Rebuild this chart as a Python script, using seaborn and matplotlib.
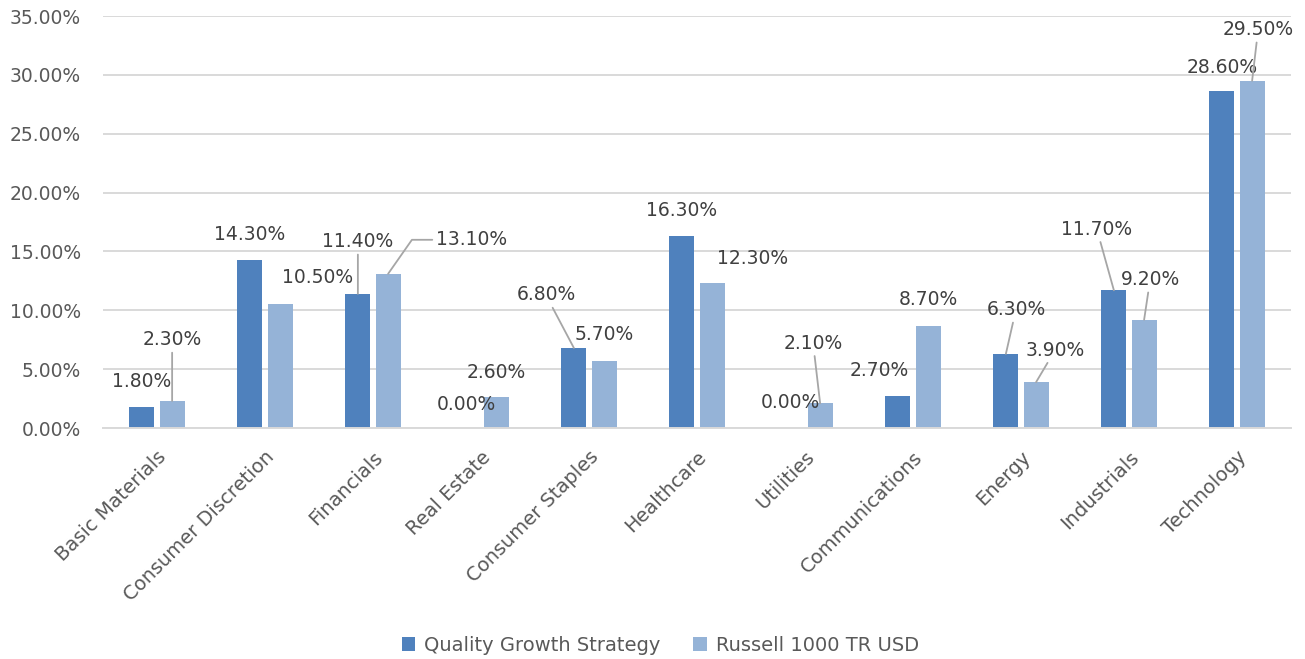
import matplotlib
matplotlib.use("Agg")
import matplotlib.pyplot as plt
import seaborn as sns
import pandas as pd
from matplotlib.patches import Patch

sectors = ["Basic Materials", "Consumer Discretion", "Financials", "Real Estate",
           "Consumer Staples", "Healthcare", "Utilities", "Communications",
           "Energy", "Industrials", "Technology"]
quality = [1.80, 14.30, 11.40, 0.00, 6.80, 16.30, 0.00, 2.70, 6.30, 11.70, 28.60]
russell = [2.30, 10.50, 13.10, 2.60, 5.70, 12.30, 2.10, 8.70, 3.90, 9.20, 29.50]
series_names = ["Quality Growth Strategy", "Russell 1000 TR USD"]
yticks = [0, 5, 10, 15, 20, 25, 30, 35]

# label placement (pixel offsets of label centre from bar top, leader line style)
q_offsets = [(0, -25, None), (0, -25, None), (0, -52, "arc3"), (0, -23, None),
             (-28, -53, "arc3"), (0, -26, None), (0, -25, None), (-19, -26, None),
             (10, -44, "arc3"), (-17, -61, "arc3"), (0, -24, None)]
r_offsets = [(0, -61, "arc3"), (37, -27, None), (83, -34, "angle,angleA=0,angleB=55,rad=0"),
             (0, -25, None), (0, -26, None), (40, -25, None), (-7, -60, "arc3"),
             (0, -26, None), (19, -32, "arc3"), (6, -40, "arc3"), (6, -51, "arc3")]

colors = ["#4F81BD", "#95B3D7"]
text_color = "#404040"
tick_color = "#595959"

df = pd.DataFrame({
    "Sector": sectors * 2,
    "Weight": quality + russell,
    "Series": [series_names[0]] * len(sectors) + [series_names[1]] * len(sectors),
})

sns.set_theme(style="white")
plt.rcParams["font.family"] = ["DejaVu Sans"]

fig = plt.figure(figsize=(13.05, 6.59), dpi=100)
ax = fig.add_axes([103 / 1305, 1 - 428 / 659, (1291 - 103) / 1305, (428 - 16) / 659])

sns.barplot(data=df, x="Sector", y="Weight", hue="Series", hue_order=series_names,
            order=sectors, palette=colors, saturation=1, width=0.56, gap=0.17,
            errorbar=None, linewidth=0, legend=False, ax=ax)

ax.set_ylim(0, 35)
ax.set_xlim(-0.5, len(sectors) - 0.5)
ax.set_yticks(yticks)
ax.set_yticklabels([f"{t:.2f}%" for t in yticks], fontsize=13.5, color=tick_color)
ax.yaxis.grid(True, color="#D9D9D9", linewidth=1.4)
ax.set_axisbelow(True)
for s in ["top", "right", "left"]:
    ax.spines[s].set_visible(False)
ax.spines["bottom"].set_color("#D9D9D9")
ax.spines["bottom"].set_linewidth(1.4)
ax.tick_params(axis="both", length=0)
ax.tick_params(axis="y", pad=16)
ax.set_xlabel("")
ax.set_ylabel("")
ax.set_xticks(range(len(sectors)))
ax.set_xticklabels(sectors, rotation=45, ha="right", rotation_mode="anchor",
                   fontsize=14, color=tick_color)
ax.tick_params(axis="x", pad=14)

px2pt = 0.72
for container, offs, vals in zip(ax.containers, [q_offsets, r_offsets], [quality, russell]):
    for bar, (dx, dy, leader), v in zip(container, offs, vals):
        xc = bar.get_x() + bar.get_width() / 2
        top = bar.get_height()
        kw = {}
        if leader:
            kw["arrowprops"] = dict(arrowstyle="-", color="#A6A6A6", lw=1.3,
                                    shrinkA=0, shrinkB=0, connectionstyle=leader)
        ax.annotate(f"{v:.2f}%", xy=(xc, top), xytext=(dx * px2pt, -dy * px2pt),
                    textcoords="offset points", ha="center", va="center",
                    fontsize=13.5, color=text_color, **kw)

handles = [Patch(facecolor=c, edgecolor="none") for c in colors]
fig.legend(handles, series_names, loc="lower center", bbox_to_anchor=(0.506, -0.02),
           ncol=2, frameon=False, fontsize=14, handlelength=0.7, handleheight=0.7,
           handletextpad=0.45, columnspacing=1.7, labelcolor=tick_color)

fig.savefig("out.png", dpi=100)
